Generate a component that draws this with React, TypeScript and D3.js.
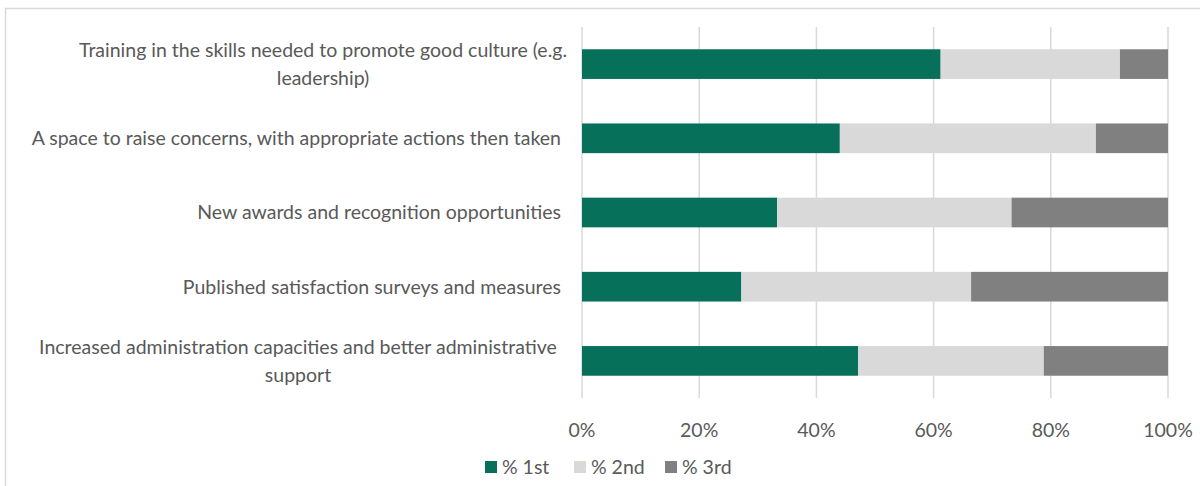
import React from "react";
import * as d3 from "d3";

const categories = [
  "Training in the skills needed to promote good culture (e.g. leadership)",
  "A space to raise concerns, with appropriate actions then taken",
  "New awards and recognition opportunities",
  "Published satisfaction surveys and measures",
  "Increased administration capacities and better administrative support",
];
const labelLines = [
  ["Training in the skills needed to promote good culture (e.g.", "leadership)"],
  ["A space to raise concerns, with appropriate actions then taken"],
  ["New awards and recognition opportunities"],
  ["Published satisfaction surveys and measures"],
  ["Increased administration capacities and better administrative", "support"],
];
const seriesNames = ["% 1st", "% 2nd", "% 3rd"];
const first = [61.2, 44.0, 33.3, 27.2, 47.1];
const second = [30.6, 43.7, 40.0, 39.2, 31.7];
const third = [8.2, 12.3, 26.7, 33.6, 21.2];
const ticks = [0, 20, 40, 60, 80, 100];
const colors = ["#07705A", "#D9D9D9", "#808080"];

const FONT = "Lato, 'Open Sans', sans-serif";
const TEXT = "#595959";

export default function App() {
  const W = 1200, H = 486;
  const x0 = 582, x1 = 1168, top = 27, bottom = 398;
  const x = d3.scaleLinear().domain([0, 100]).range([x0, x1]);
  const y = d3.scaleBand().domain(categories).range([top, bottom]).paddingInner(0.6).paddingOuter(0.3);
  const rows = categories.map((c, i) => {
    const vals = [first[i], second[i], third[i]];
    const total = d3.sum(vals);
    let acc = 0;
    return vals.map((v, k) => {
      const s = (acc / total) * 100;
      acc += v;
      const e = (acc / total) * 100;
      return { c, k, s, e };
    });
  });
  const lineH = 28;
  const fs = 19.5;
  return (
    <svg width={W} height={H} style={{ position: "absolute", left: 0, top: 0 }} fontFamily={FONT}>
      <rect x={0} y={0} width={W} height={H} fill="#fff" />
      <rect x={5.5} y={8.5} width={W + 10} height={H + 10} fill="none" stroke="#D9D9D9" strokeWidth={1.5} />
      {ticks.map((t) => (
        <line key={t} x1={x(t)} x2={x(t)} y1={top} y2={bottom} stroke="#D9D9D9" strokeWidth={1.5} />
      ))}
      {rows.map((segs, i) =>
        segs.map((sg) => (
          <rect key={i + "-" + sg.k} x={x(sg.s)} y={y(sg.c)!} width={x(sg.e) - x(sg.s)} height={y.bandwidth()} fill={colors[sg.k]} />
        ))
      )}
      {categories.map((c, i) => {
        const lines = labelLines[i];
        const cy = y(c)! + y.bandwidth() / 2;
        const multi = lines.length > 1;
        return lines.map((ln, j) => (
          <text
            key={c + j}
            x={multi ? (i === 0 ? 323 : 298) : 561}
            y={cy + (j - (lines.length - 1) / 2) * lineH}
            dy="0.35em"
            textAnchor={multi ? "middle" : "end"}
            fontSize={fs}
            fill={TEXT}
          >
            {ln}
          </text>
        ));
      })}
      {ticks.map((t) => (
        <text key={"t" + t} x={x(t)} y={430} dy="0.35em" textAnchor="middle" fontSize={fs} fill={TEXT}>
          {t + "%"}
        </text>
      ))}
      {seriesNames.map((n, k) => {
        const lx = [485, 574, 665][k];
        return (
          <g key={n}>
            <rect x={lx} y={461} width={12} height={12} fill={colors[k]} />
            <text x={lx + 17} y={467} dy="0.35em" fontSize={fs} fill={TEXT}>
              {n}
            </text>
          </g>
        );
      })}
    </svg>
  );
}
